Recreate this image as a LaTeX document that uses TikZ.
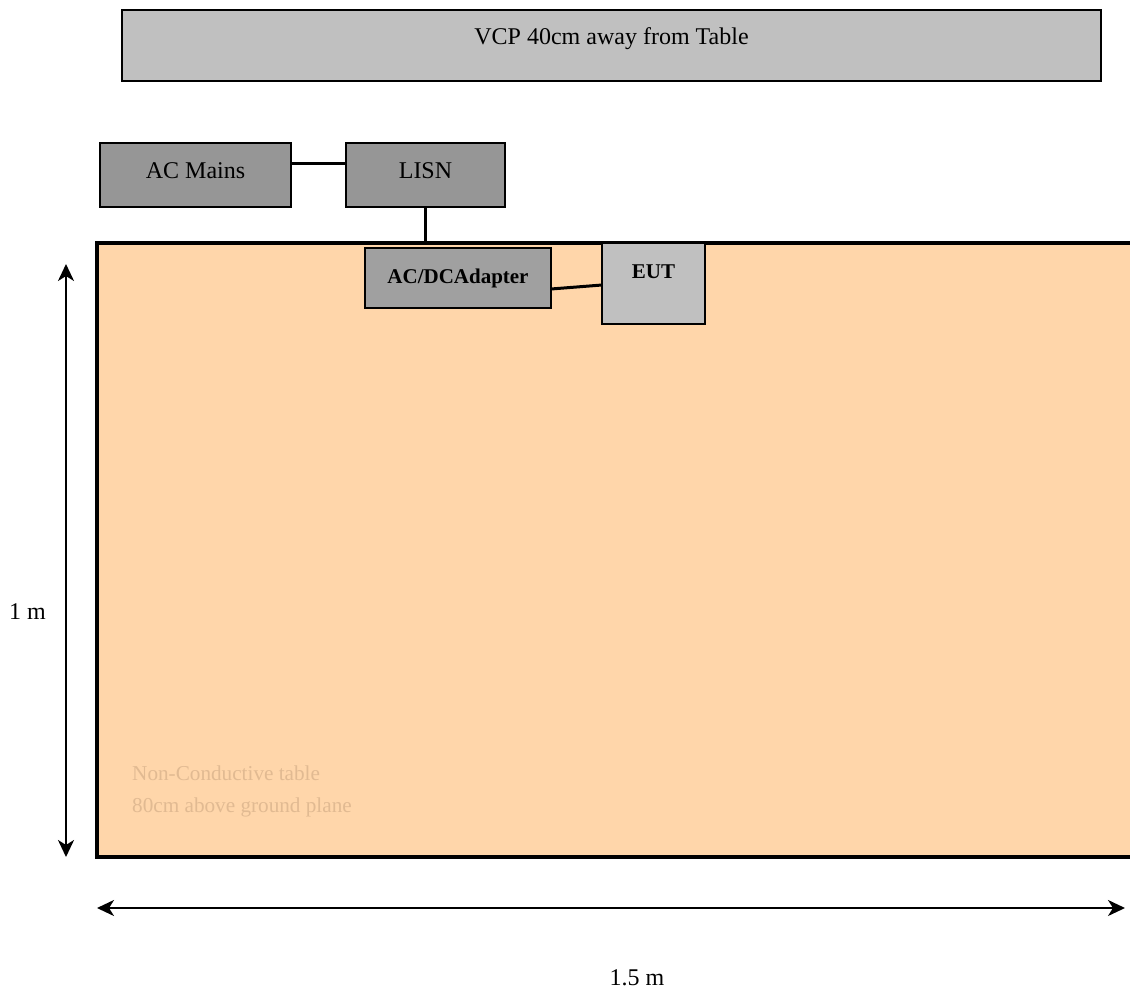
\documentclass[tikz,border=0pt]{standalone}
\usepackage{fontspec}
\setmainfont{Liberation Serif}
\usetikzlibrary{arrows.meta}
\definecolor{tablefill}{RGB}{255,214,170}
\definecolor{tabletext}{RGB}{225,186,146}
\definecolor{darkbox}{RGB}{150,150,150}
\definecolor{midbox}{RGB}{160,160,160}
\definecolor{lightbox}{RGB}{192,192,192}
\tikzset{
  box/.style={draw=black, line width=2.2pt, inner sep=0pt, outer sep=0pt},
  big/.style={font=\fontsize{24}{28}\selectfont, inner sep=0pt, anchor=base},
  boldtxt/.style={font=\fontsize{21}{25}\selectfont\bfseries, inner sep=0pt, anchor=base},
  tabtxt/.style={font=\fontsize{21.2}{25}\selectfont, text=tabletext, anchor=base west, inner sep=0pt},
  conn/.style={line width=3pt},
  dim/.style={line width=2.2pt, {Stealth[length=17pt,width=16pt,inset=5pt]}-{Stealth[length=17pt,width=16pt,inset=5pt]}}
}
\begin{document}
\begin{tikzpicture}[x=1pt,y=-1pt]
\useasboundingbox (0,0) rectangle (1130,988);
% VCP
\node[box, fill=lightbox, minimum width=979pt, minimum height=71pt] (vcp) at (611.5,45.5) {};
\node[big] (vcpt) at (611.5,44) {VCP 40cm away from Table};
% table
\node[draw=black, line width=3.2pt, fill=tablefill, minimum width=1050pt, minimum height=614pt, inner sep=0pt] (table) at (622,550) {};
\node[tabtxt] (t1) at (132,780) {Non-Conductive table};
\node[tabtxt] (t2) at (132,812) {80cm above ground plane};
% boxes
\node[box, fill=darkbox, minimum width=191pt, minimum height=64pt] (mains) at (195.5,175) {};
\node[big] at (195.5,178) {AC Mains};
\node[box, fill=darkbox, minimum width=159pt, minimum height=64pt] (lisn) at (425.5,175) {};
\node[big] at (425.5,178) {LISN};
\node[box, fill=midbox, minimum width=186pt, minimum height=60pt] (adapter) at (458,278) {};
\node[boldtxt] at (458,283) {AC/DCAdapter};
\node[box, fill=lightbox, minimum width=103pt, minimum height=81pt] (eut) at (653.5,283.5) {};
\node[boldtxt] at (653.5,278) {EUT};
% connectors
\draw[conn] (mains.east |- 0,163) -- (lisn.west |- 0,163);
\draw[conn] (lisn.south) -- (lisn.south |- table.north);
\draw[conn] (adapter.east |- 0,289) -- (eut.west |- 0,285);
% dimensions
\coordinate (vtop) at (66,264);
\coordinate (vbot) at (66,857);
\draw[dim] (vtop) -- (vbot);
\node[big] at (27.5,619) {1 m};
\coordinate (hl) at (97,908);
\coordinate (hr) at (1125,908);
\draw[dim] (hl) -- (hr);
\node[big] at (637,985) {1.5 m};
\end{tikzpicture}
\end{document}
